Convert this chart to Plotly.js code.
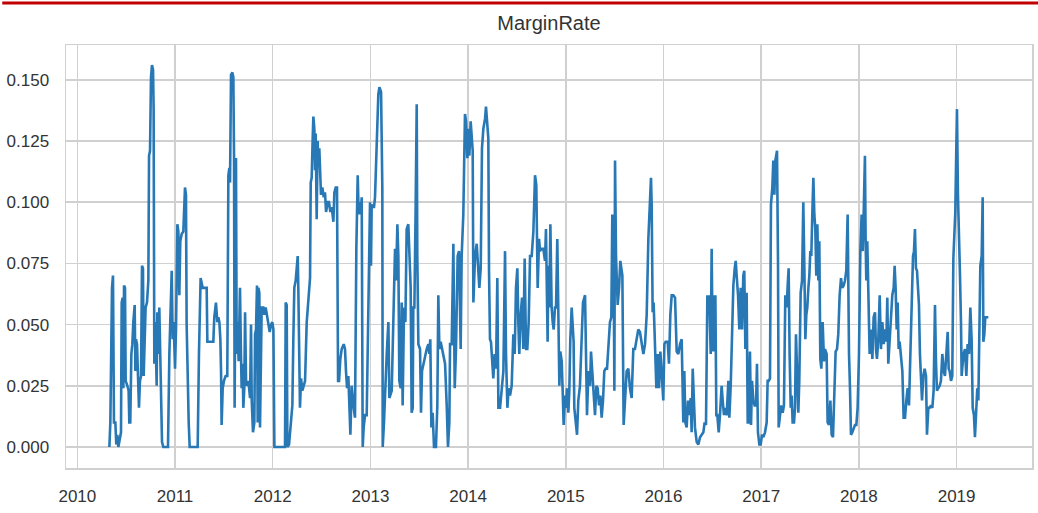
<!DOCTYPE html>
<html>
<head>
<meta charset="utf-8">
<script src="https://cdn.plot.ly/plotly-3.0.1.min.js"></script>
<style>html,body{margin:0;padding:0;background:#fff;}#chart{width:1038px;height:513px;}</style>
</head>
<body>
<div id="chart"></div>
<script>
// Dates as decimal years
const years = [
2010.328,2010.338,2010.355,2010.365,2010.375,2010.389,2010.399,2010.409,2010.420,2010.437,2010.447,2010.454,2010.464,2010.471,2010.478,2010.488,2010.495,2010.512,2010.525,2010.532,2010.542,2010.553,2010.563,2010.573,2010.587,2010.594,2010.600,2010.611,2010.621,2010.631,2010.641,2010.652,2010.662,2010.672,2010.679,2010.689,2010.699,2010.713,2010.727,2010.734,2010.744,2010.754,2010.764,2010.775,2010.781,2010.788,2010.798,2010.805,2010.812,2010.819,2010.829,2010.839,2010.850,2010.856,2010.867,2010.880,2010.928,2010.942,2010.955,2010.966,2010.976,2010.986,2011.000,2011.010,2011.024,2011.034,2011.044,2011.054,2011.068,2011.085,2011.102,2011.112,2011.119,2011.129,2011.140,2011.150,2011.232,2011.245,2011.262,2011.283,2011.324,2011.331,2011.392,2011.402,2011.413,2011.419,2011.433,2011.443,2011.454,2011.464,2011.471,2011.477,2011.488,2011.501,2011.518,2011.535,2011.546,2011.556,2011.563,2011.573,2011.587,2011.597,2011.604,2011.610,2011.617,2011.624,2011.631,2011.641,2011.651,2011.665,2011.675,2011.682,2011.692,2011.699,2011.709,
2011.717,2011.727,2011.737,2011.751,2011.757,2011.768,2011.778,2011.785,2011.798,2011.812,2011.819,2011.829,2011.839,2011.846,2011.853,2011.863,2011.870,2011.880,2011.887,2011.904,2011.914,2011.928,2011.942,2011.955,2011.969,2011.983,2011.996,2012.007,2012.017,2012.126,2012.133,2012.143,2012.150,2012.167,2012.187,2012.201,2012.211,2012.221,2012.235,2012.245,2012.256,2012.262,2012.273,2012.279,2012.290,2012.303,2012.317,2012.331,2012.348,2012.365,2012.382,2012.389,2012.399,2012.409,2012.416,2012.426,2012.433,2012.440,2012.450,2012.460,2012.467,2012.477,2012.488,2012.494,2012.508,2012.522,2012.535,2012.546,2012.563,2012.576,2012.590,2012.604,2012.621,2012.631,2012.645,2012.658,2012.669,2012.679,2012.692,2012.706,2012.727,2012.740,2012.750,2012.761,2012.774,2012.785,2012.795,2012.808,2012.819,2012.829,2012.842,2012.856,2012.870,2012.880,2012.890,2012.900,2012.911,2012.921,2012.931,2012.945,2012.962,2012.979,2012.996,2013.006,2013.013,2013.027,2013.037,2013.047,2013.064,2013.081,2013.092,2013.109,2013.122,2013.126,2013.139,2013.150,2013.167,2013.184,2013.194,
2013.218,2013.235,2013.252,2013.262,2013.276,2013.286,2013.296,2013.310,2013.320,2013.330,2013.344,2013.358,2013.371,2013.388,2013.398,2013.412,2013.422,2013.433,2013.439,2013.450,2013.463,2013.474,2013.480,2013.491,2013.508,2013.518,2013.528,2013.542,2013.559,2013.576,2013.593,2013.603,2013.613,2013.624,2013.637,2013.651,2013.671,2013.685,2013.695,2013.706,2013.719,2013.733,2013.747,2013.764,2013.781,2013.794,2013.808,2013.815,2013.832,2013.849,2013.863,2013.876,2013.893,2013.907,2013.924,2013.934,2013.951,2013.968,2013.979,2013.992,2014.002,2014.013,2014.026,2014.037,2014.047,2014.054,2014.071,2014.088,2014.105,2014.115,2014.129,2014.142,2014.156,2014.173,2014.183,2014.193,2014.207,2014.214,2014.224,2014.234,2014.248,2014.258,2014.272,2014.286,2014.299,2014.310,2014.327,2014.344,2014.361,2014.378,2014.388,2014.402,2014.415,2014.429,2014.446,2014.463,2014.477,2014.490,2014.504,2014.514,2014.524,2014.538,2014.552,2014.565,2014.579,2014.593,2014.606,2014.620,2014.634,2014.651,2014.668,
2014.685,2014.698,2014.712,2014.726,2014.736,2014.753,2014.770,2014.787,2014.797,2014.808,2014.814,2014.821,2014.831,2014.842,2014.855,2014.866,2014.876,2014.889,2014.900,2014.913,2014.924,2014.934,2014.944,2014.958,2014.968,2014.978,2014.992,2015.002,2015.012,2015.026,2015.036,2015.046,2015.060,2015.070,2015.080,2015.087,2015.101,2015.115,2015.128,2015.145,2015.162,2015.176,2015.197,2015.207,2015.217,2015.231,2015.248,2015.258,2015.272,2015.285,2015.299,2015.313,2015.326,2015.340,2015.353,2015.367,2015.381,2015.394,2015.408,2015.422,2015.435,2015.452,2015.466,2015.476,2015.490,2015.497,2015.504,2015.514,2015.531,2015.545,2015.558,2015.572,2015.579,2015.592,2015.606,2015.623,2015.640,2015.657,2015.674,2015.691,2015.708,2015.725,2015.742,2015.759,2015.777,2015.794,2015.811,2015.828,2015.845,2015.862,2015.872,2015.879,2015.889,2015.899,2015.913,2015.927,2015.940,2015.954,2015.968,2015.981,2015.998,2016.009,2016.022,2016.043,2016.056,2016.070,2016.084,2016.101,2016.118,2016.135,2016.152,
2016.169,2016.186,2016.203,2016.213,2016.224,2016.237,2016.251,2016.264,2016.278,2016.288,2016.299,2016.312,2016.322,2016.340,2016.357,2016.374,2016.391,2016.408,2016.421,2016.435,2016.449,2016.459,2016.469,2016.483,2016.493,2016.503,2016.510,2016.520,2016.531,2016.541,2016.551,2016.565,2016.578,2016.595,2016.606,2016.619,2016.630,2016.647,2016.664,2016.674,2016.688,2016.701,2016.715,2016.729,2016.739,2016.749,2016.763,2016.776,2016.790,2016.804,2016.817,2016.827,2016.838,2016.851,2016.862,2016.872,2016.885,2016.896,2016.906,2016.920,2016.933,2016.947,2016.957,2016.967,2016.981,2016.995,2017.008,2017.022,2017.039,2017.056,2017.066,2017.077,2017.090,2017.100,2017.114,2017.124,2017.135,2017.145,2017.152,2017.162,2017.172,2017.179,2017.193,2017.206,2017.220,2017.233,2017.247,2017.261,2017.271,2017.281,2017.291,2017.302,2017.312,2017.322,2017.336,2017.346,2017.356,2017.370,2017.380,2017.390,2017.404,2017.418,2017.431,2017.442,2017.452,2017.462,2017.472,2017.483,2017.493,2017.503,2017.513,2017.523,2017.534,2017.544,2017.554,2017.564,2017.575,2017.585,2017.595,2017.605,2017.616,2017.629,2017.643,
2017.653,2017.670,2017.680,2017.694,2017.708,2017.721,2017.735,2017.749,2017.762,2017.776,2017.789,2017.803,2017.817,2017.830,2017.844,2017.858,2017.871,2017.885,2017.892,2017.899,2017.909,2017.919,2017.933,2017.946,2017.960,2017.974,2017.987,2018.001,2018.015,2018.028,2018.039,2018.049,2018.062,2018.069,2018.076,2018.086,2018.097,2018.110,2018.124,2018.138,2018.151,2018.165,2018.175,2018.185,2018.199,2018.213,2018.226,2018.240,2018.254,2018.267,2018.281,2018.291,2018.301,2018.315,2018.329,2018.342,2018.356,2018.366,2018.376,2018.387,2018.397,2018.407,2018.417,2018.431,2018.445,2018.458,2018.472,2018.486,2018.499,2018.513,2018.526,2018.540,2018.554,2018.564,2018.574,2018.584,2018.595,2018.605,2018.615,2018.625,2018.636,2018.646,2018.660,2018.673,2018.687,2018.697,2018.711,2018.724,2018.738,2018.752,2018.765,2018.779,2018.789,2018.799,2018.813,2018.827,2018.840,2018.854,2018.868,2018.881,2018.895,2018.909,2018.919,2018.929,2018.943,2018.956,2018.967,2018.977,2018.987,2018.994,2019.004,2019.014,2019.025,2019.035,2019.045,2019.052,2019.062,2019.072,2019.086,2019.100,2019.113,2019.127,2019.141,2019.154,2019.165,2019.178,2019.188,2019.199,2019.212,2019.223,2019.233,2019.243,2019.257,2019.267,2019.274,2019.284,2019.294,2019.308,2019.325
];
const marginRate = [
0,0.010,0.065,0.070,0.010,0.010,0.001,0.005,0,0.005,0.006,0.059,0.061,0.024,0.066,0.065,0.027,0.025,0.023,0.010,0.010,0.038,0.042,0.051,0.058,0.031,0.044,0.042,0.032,0.016,0.027,0.029,0.074,0.073,0.029,0.040,0.057,0.059,0.068,0.119,0.121,0.151,0.156,0.154,0.138,0.034,0.051,0.038,0.025,0.055,0.038,0.057,0.038,0.017,0.002,0,0,0.038,0.058,0.072,0.044,0.051,0.032,0.048,0.091,0.088,0.062,0.084,0.087,0.088,0.106,0.103,0.050,0.024,0.010,0,0,0.038,0.069,0.065,0.065,0.043,0.043,0.053,0.057,0.059,0.051,0.053,0.051,0.044,0.031,0.009,0.024,0.027,0.029,0.029,0.111,0.114,0.108,0.152,0.153,0.151,0.119,0.016,0.065,0.118,0.038,0.051,0.035,0.065,0.038,0.024,0.034,0.016,0.024,
0.055,0.027,0.025,0.027,0.024,0.020,0.050,0.019,0.006,0.010,0.046,0.048,0.066,0.010,0.065,0.063,0.008,0.044,0.057,0.057,0.054,0.057,0.054,0.051,0.047,0.050,0.051,0.048,0,0,0.059,0.058,0,0.001,0.010,0.017,0.044,0.065,0.068,0.072,0.078,0.065,0.029,0.016,0.028,0.023,0.025,0.027,0.051,0.062,0.069,0.108,0.110,0.126,0.135,0.130,0.113,0.128,0.093,0.125,0.115,0.122,0.113,0.103,0.106,0.102,0.104,0.096,0.100,0.100,0.096,0.098,0.092,0.104,0.106,0.106,0.027,0.027,0.036,0.040,0.042,0.040,0.031,0.024,0.029,0.017,0.005,0.025,0.019,0.016,0.012,0.081,0.111,0.095,0.100,0.095,0.102,0,0.008,0.013,0.013,0.054,0.100,0.074,0.099,0.098,0.098,0.102,0.122,0.144,0.147,0.145,0.106,0,0.010,0.024,0.038,0.051,0.020,
0.023,0.054,0.081,0.068,0.091,0.078,0.027,0.024,0.059,0.017,0.057,0.051,0.089,0.091,0.080,0.065,0.014,0.016,0.057,0.057,0.098,0.140,0.078,0.042,0.040,0.014,0.031,0.034,0.036,0.040,0.042,0.038,0.044,0.008,0.014,0,0,0.017,0.062,0.040,0.043,0.040,0.038,0.034,0.017,0,0.010,0.042,0.042,0.083,0.024,0.040,0.078,0.080,0.040,0.078,0.095,0.136,0.133,0.118,0.130,0.119,0.133,0.125,0.121,0.059,0.078,0.083,0.072,0.065,0.073,0.122,0.130,0.134,0.139,0.133,0.126,0.072,0.044,0.043,0.035,0.028,0.038,0.032,0.069,0.016,0.016,0.024,0.031,0.080,0.038,0.016,0.024,0.021,0.025,0.046,0.038,0.065,0.073,0.051,0.038,0.054,0.061,0.040,0.077,0.040,0.040,0.051,0.078,0.078,0.088,
0.111,0.107,0.065,0.085,0.080,0.081,0.081,0.076,0.089,0.059,0.043,0.074,0.057,0.091,0.057,0.051,0.048,0.057,0.057,0.085,0.038,0.025,0.039,0.035,0.023,0.009,0.021,0.016,0.024,0.014,0.023,0.044,0.057,0.047,0.043,0.016,0.010,0.005,0.019,0.025,0.044,0.059,0.062,0.038,0.013,0.031,0.025,0.039,0.031,0.025,0.013,0.025,0.024,0.017,0.021,0.012,0.019,0.031,0.032,0.032,0.040,0.051,0.053,0.095,0.076,0.023,0.117,0.078,0.058,0.065,0.076,0.073,0.070,0.009,0.021,0.031,0.032,0.024,0.020,0.040,0.040,0.044,0.048,0.047,0.043,0.038,0.042,0.054,0.085,0.098,0.110,0.099,0.055,0.059,0.042,0.024,0.038,0.024,0.039,0.029,0.019,0.042,0.043,0.043,0.034,0.054,0.062,0.062,0.061,0.039,0.038,
0.042,0.044,0.010,0.031,0.010,0.008,0.019,0.013,0.020,0.006,0.032,0.017,0.008,0.002,0.001,0.004,0.005,0.006,0.010,0.009,0.062,0.055,0.062,0.038,0.081,0.039,0.062,0.039,0.062,0.013,0.013,0.006,0.013,0.025,0.019,0.013,0.016,0.013,0.027,0.012,0.025,0.047,0.066,0.073,0.076,0.070,0.062,0.048,0.065,0.048,0.070,0.072,0.040,0.063,0.010,0.010,0.039,0.009,0.027,0.019,0.017,0.017,0.034,0.006,0.001,0.001,0.005,0.004,0.006,0.010,0.027,0.027,0.028,0.099,0.106,0.117,0.103,0.117,0.119,0.121,0.076,0.008,0.013,0.017,0.014,0.017,0.062,0.057,0.066,0.073,0.038,0.016,0.021,0.010,0.010,0.016,0.046,0.024,0.014,0.027,0.063,0.068,0.100,0.073,0.044,0.054,0.057,0.065,0.070,0.080,0.078,0.095,0.110,0.095,0.089,0.070,0.091,0.068,0.084,0.036,0.032,0.051,0.035,
0.040,0.038,0.010,0.009,0.019,0.005,0.004,0.021,0.039,0.040,0.046,0.062,0.069,0.065,0.066,0.068,0.072,0.095,0.051,0.038,0.024,0.005,0.006,0.008,0.009,0.009,0.016,0.038,0.080,0.095,0.080,0.095,0.119,0.084,0.068,0.084,0.058,0.038,0.048,0.036,0.053,0.055,0.040,0.036,0.044,0.062,0.040,0.051,0.042,0.048,0.043,0.061,0.034,0.043,0.051,0.062,0.065,0.074,0.065,0.048,0.059,0.040,0.043,0.038,0.031,0.012,0.012,0.019,0.024,0.017,0.035,0.057,0.078,0.080,0.089,0.073,0.072,0.065,0.058,0.038,0.027,0.019,0.029,0.032,0.029,0.005,0.016,0.016,0.017,0.016,0.023,0.058,0.035,0.023,0.024,0.025,0.027,0.038,0.031,0.029,0.038,0.047,0.032,0.031,0.027,0.029,0.077,0.085,0.096,0.114,0.138,0.103,0.077,0.070,0.051,0.029,0.034,0.038,0.040,0.029,0.042,0.038,0.057,0.044,0.016,0.013,0.004,0.017,0.024,0.019,0.044,0.074,0.078,0.102,0.043,0.046,0.053,0.053,0.053
];
const yearTicks = [2010,2011,2012,2013,2014,2015,2016,2017,2018,2019];
const rateTicks = [0,0.025,0.05,0.075,0.1,0.125,0.15];

const tickFont = {family:'"Liberation Sans",Arial,sans-serif', size:17, color:'#333333'};

Plotly.newPlot('chart', [{
  x: years, y: marginRate, type:'scatter', mode:'lines',
  line:{color:'#2878b5', width:2.6}, hoverinfo:'skip'
}], {
  width:1038, height:513,
  margin:{l:66, r:6, t:45, b:45, pad:0},
  paper_bgcolor:'#ffffff', plot_bgcolor:'#ffffff',
  showlegend:false,
  title:{text:'MarginRate', font:{family:'"Liberation Sans",Arial,sans-serif', size:20, color:'#333333'},
         x:0.5, xref:'paper', xanchor:'center', y:0.955, yref:'container', yanchor:'middle'},
  xaxis:{range:[2009.884,2019.772], tickvals:yearTicks, ticktext:yearTicks.map(String),
         showgrid:true, gridcolor:'#d0d0d0', gridwidth:1.5, zeroline:false,
         showline:true, mirror:true, linecolor:'#d0d0d0', linewidth:1.5,
         ticks:'', tickfont:tickFont, ticklabelstandoff:12},
  yaxis:{range:[-0.00858,0.1642], tickvals:rateTicks, tickformat:'.3f',
         showgrid:true, gridcolor:'#d0d0d0', gridwidth:1.5, zeroline:false,
         showline:true, mirror:true, linecolor:'#d0d0d0', linewidth:1.5,
         ticks:'', tickfont:tickFont, ticklabelstandoff:12},
  shapes:[{type:'line', xref:'paper', yref:'paper', x0:-0.066, x1:1.01, y0:1.0993, y1:1.0993,
           line:{color:'#c00000', width:3}}]
}, {displayModeBar:false, staticPlot:true});
</script>
</body>
</html>
